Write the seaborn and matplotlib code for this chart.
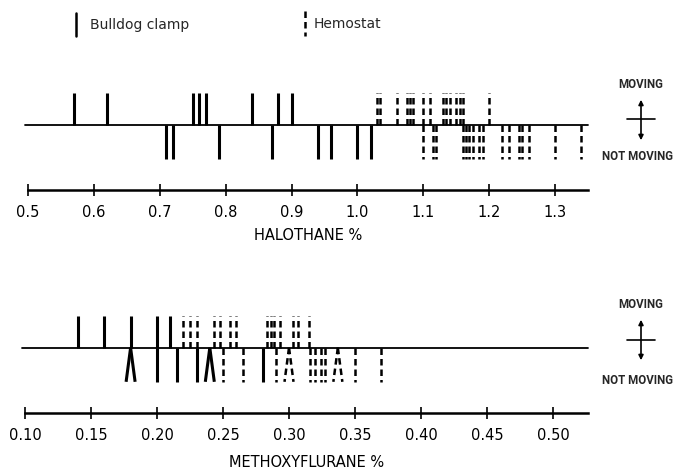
import numpy as np
import matplotlib
matplotlib.use("Agg")
import matplotlib.pyplot as plt
from matplotlib.lines import Line2D
import seaborn as sns

# ---------------- data ----------------
# Halothane (%)
halo_clamp_moving = [0.57, 0.62, 0.75, 0.76, 0.77, 0.84, 0.88, 0.90]
halo_clamp_not = [0.71, 0.72, 0.79, 0.87, 0.94, 0.96, 1.00, 1.02]
halo_hemo_moving = [1.03, 1.035, 1.06, 1.075, 1.08, 1.085, 1.10, 1.11,
                    1.13, 1.135, 1.14, 1.15, 1.155, 1.16, 1.20]
halo_hemo_not = [1.10, 1.115, 1.12, 1.16, 1.165, 1.17, 1.175, 1.185, 1.19,
                 1.22, 1.23, 1.245, 1.25, 1.26, 1.30, 1.34]
halo_ticks = [0.5, 0.6, 0.7, 0.8, 0.9, 1.0, 1.1, 1.2, 1.3]
halo_ticklabels = ["0.5", "0.6", "0.7", "0.8", "0.9", "1.0", "1.1", "1.2", "1.3"]

# Methoxyflurane (%)
meth_clamp_moving = [0.14, 0.16, 0.18, 0.20, 0.21]
meth_clamp_not = [0.18, 0.18, 0.20, 0.215, 0.23, 0.24, 0.24, 0.28]
meth_hemo_moving = [0.22, 0.225, 0.23, 0.243, 0.248, 0.255, 0.26, 0.283,
                    0.286, 0.289, 0.293, 0.303, 0.307, 0.315]
meth_hemo_not = [0.25, 0.265, 0.29, 0.30, 0.30, 0.316, 0.32, 0.324, 0.327,
                 0.337, 0.337, 0.35, 0.37]
meth_ticks = [0.10, 0.15, 0.20, 0.25, 0.30, 0.35, 0.40, 0.45, 0.50]
meth_ticklabels = ["0.10", "0.15", "0.20", "0.25", "0.30", "0.35", "0.40", "0.45", "0.50"]

# ---------------- style ----------------
sns.set_theme(style="white")
plt.rcParams["font.family"] = ["DejaVu Sans"]

W, H = 675, 475
fig = plt.figure(figsize=(W / 100, H / 100), dpi=100)


def fx(px):
    return px / W


def fy(py):
    return 1 - py / H


UP, DOWN, YMIN, YMAX = 1.0, -1.07, -2.05, 1.25
DASH = (0, (2.6, 1.6))


def draw_marks(ax, values, direction, dashed, span):
    vals = np.asarray(values, dtype=float)
    lean = np.zeros_like(vals)
    # exact duplicates are drawn as a leaning pair (V / Λ)
    for v in np.unique(vals):
        idx = np.where(vals == v)[0]
        if len(idx) == 2:
            lean[idx[0]] = -0.008 * span
            lean[idx[1]] = 0.008 * span
    yend = UP if direction > 0 else DOWN
    for v, d in zip(vals, lean):
        ax.plot([v, v + d], [0, yend], color="black",
                lw=1.8 if dashed else 2.2,
                ls=DASH if dashed else "-",
                solid_capstyle="butt", dash_capstyle="butt")


def panel(rect, xlim, ticks, ticklabels, xlabel, cm, cn, hm, hn, labelpad):
    ax = fig.add_axes(rect)
    ax.set_xlim(*xlim)
    ax.set_ylim(YMIN, YMAX)
    span = xlim[1] - xlim[0]
    ax.axhline(0, color="black", lw=1.3, xmin=-0.005, xmax=1.0, clip_on=False)
    draw_marks(ax, cm, 1, False, span)
    draw_marks(ax, cn, -1, False, span)
    draw_marks(ax, hm, 1, True, span)
    draw_marks(ax, hn, -1, True, span)
    sns.despine(ax=ax, left=True, top=True, right=True, bottom=False)
    ax.spines["bottom"].set_linewidth(1.8)
    ax.spines["bottom"].set_color("black")
    ax.set_yticks([])
    ax.set_xticks(ticks)
    ax.set_xticklabels(ticklabels)
    ax.tick_params(axis="x", direction="inout", length=9, width=1.2,
                   colors="black", labelsize=10.5, pad=6, bottom=True)
    ax.set_xlabel(xlabel, fontsize=10.5, color="black", labelpad=labelpad)
    ax.set_facecolor("none")
    return ax


# axes: bottom spine is the scale line, baseline at y=0
h_px = 105
panel([fx(28), fy(190), fx(588) - fx(28), h_px / H], (0.5, 1.35),
      halo_ticks, halo_ticklabels, "HALOTHANE %",
      halo_clamp_moving, halo_clamp_not, halo_hemo_moving, halo_hemo_not, 6)
panel([fx(25), fy(413), fx(588) - fx(25), h_px / H], (0.10, 0.5265),
      meth_ticks, meth_ticklabels, "METHOXYFLURANE %",
      meth_clamp_moving, meth_clamp_not, meth_hemo_moving, meth_hemo_not, 9)

# legend at top
fig.add_artist(Line2D([fx(76), fx(76)], [fy(13), fy(36)], color="black", lw=1.8))
fig.text(fx(90), fy(25), "Bulldog clamp", fontsize=10, va="center", ha="left")
fig.add_artist(Line2D([fx(305), fx(305)], [fy(11), fy(36)], color="black", lw=1.8,
                      ls=DASH))
fig.text(fx(314), fy(24), "Hemostat", fontsize=10, va="center", ha="left")

# moving / not moving indicators
for top, mid, bot_arrow, nm in [(85, 119, 143, 156), (305, 340, 363, 380)]:
    fig.text(fx(641), fy(top), "MOVING", fontsize=8.3, fontweight="bold",
             family=["Roboto", "DejaVu Sans"], ha="center", va="center")
    fig.text(fx(638), fy(nm), "NOT MOVING", fontsize=8.3, fontweight="bold",
             family=["Roboto", "DejaVu Sans"], ha="center", va="center")
    fig.add_artist(Line2D([fx(627), fx(655)], [fy(mid), fy(mid)], color="black", lw=1.2))
    fig.patches.append(matplotlib.patches.FancyArrowPatch(
        (fx(641), fy(bot_arrow)), (fx(641), fy(top + 12)),
        transform=fig.transFigure, arrowstyle="<|-|>", mutation_scale=7,
        color="black", lw=1.2))

fig.savefig("out.png", dpi=100, facecolor="white")
